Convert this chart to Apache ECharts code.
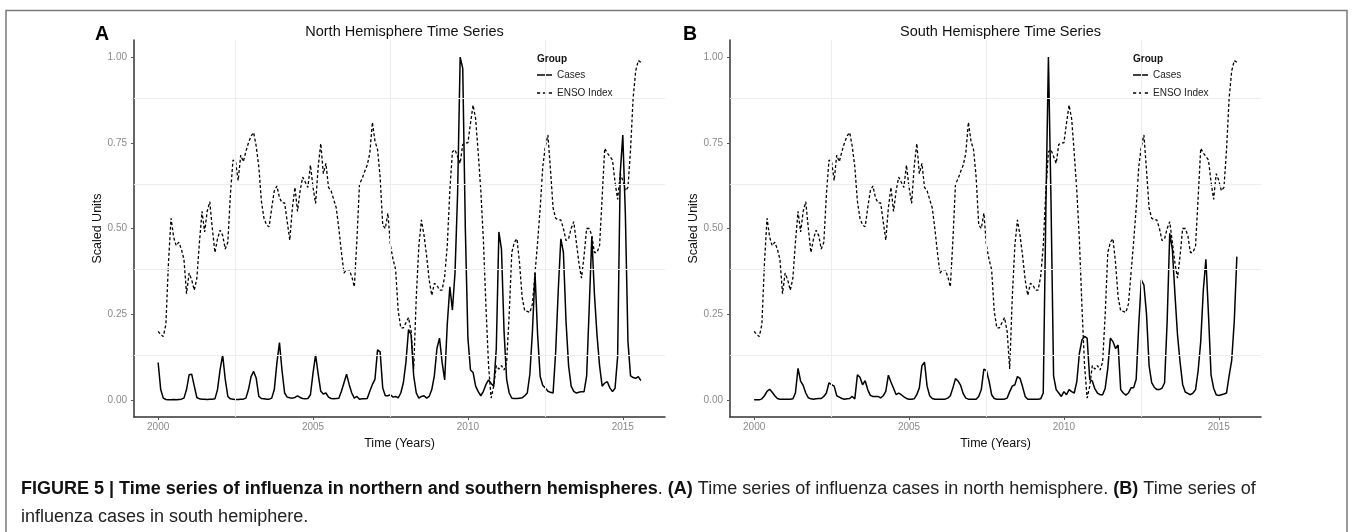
<!DOCTYPE html>
<html>
<head>
<meta charset="utf-8">
<script src="https://cdn.jsdelivr.net/npm/echarts@6/dist/echarts.min.js"></script>
<style>
html,body{margin:0;padding:0;background:#fff;}
#chart{width:1352px;height:532px;}
</style>
</head>
<body>
<div id="chart"></div>
<script>
// ---- data (monthly, Jan 2000 .. Aug 2015) ----
var startYear = 2000;
var xTickYears = [2000, 2005, 2010, 2015];
var yTickValues = [0, 0.25, 0.5, 0.75, 1];
var xMinorGrid = [2002.5, 2007.5, 2012.5];
var yMinorGrid = [0.125, 0.375, 0.625, 0.875];
var panelTitles = ['North Hemisphere Time Series', 'South Hemisphere Time Series'];
var panelLetters = ['A', 'B'];
var seriesNames = ['Cases', 'ENSO Index'];

var ensoIndex = [
  0.20, 0.19, 0.185, 0.22, 0.40, 0.53, 0.475, 0.45, 0.46, 0.44,
  0.41, 0.31, 0.37, 0.35, 0.32, 0.355, 0.46, 0.55, 0.49, 0.55,
  0.578, 0.50, 0.43, 0.47, 0.495, 0.48, 0.44, 0.46, 0.60, 0.70,
  0.695, 0.64, 0.714, 0.695, 0.725, 0.75, 0.77, 0.78, 0.74, 0.68,
  0.58, 0.53, 0.51, 0.505, 0.56, 0.61, 0.624, 0.59, 0.575, 0.575,
  0.52, 0.466, 0.56, 0.62, 0.55, 0.61, 0.65, 0.635, 0.62, 0.685,
  0.62, 0.573, 0.68, 0.748, 0.66, 0.69, 0.62, 0.61, 0.585, 0.56,
  0.50, 0.43, 0.37, 0.38, 0.38, 0.36, 0.33, 0.466, 0.63, 0.645,
  0.666, 0.685, 0.72, 0.81, 0.755, 0.73, 0.65, 0.51, 0.50, 0.545,
  0.45, 0.41, 0.38, 0.26, 0.21, 0.21, 0.225, 0.24, 0.20, 0.09,
  0.30, 0.45, 0.525, 0.48, 0.42, 0.35, 0.305, 0.34, 0.335, 0.32,
  0.32, 0.36, 0.45, 0.61, 0.724, 0.73, 0.71, 0.69, 0.745, 0.75,
  0.75, 0.807, 0.86, 0.82, 0.72, 0.61, 0.466, 0.27, 0.10, 0.005,
  0.04, 0.10, 0.09, 0.10, 0.087, 0.11, 0.25, 0.43, 0.46, 0.47,
  0.40, 0.30, 0.26, 0.258, 0.255, 0.28, 0.37, 0.46, 0.56, 0.68,
  0.74, 0.773, 0.67, 0.56, 0.53, 0.525, 0.525, 0.50, 0.465, 0.47,
  0.50, 0.52, 0.46, 0.40, 0.355, 0.42, 0.50, 0.50, 0.48, 0.43,
  0.43, 0.45, 0.59, 0.734, 0.72, 0.71, 0.70, 0.635, 0.585, 0.66,
  0.64, 0.61, 0.62, 0.73, 0.88, 0.96, 0.99, 0.985
];

var northCases = [
  0.109, 0.03, 0.005, 0.001, 0.0, 0.0, 0.001, 0.0, 0.001, 0.002,
  0.005, 0.03, 0.073, 0.075, 0.04, 0.007, 0.003, 0.002, 0.002, 0.001,
  0.002, 0.002, 0.003, 0.03, 0.088, 0.131, 0.06, 0.01, 0.003, 0.002,
  0.001, 0.001, 0.002, 0.002, 0.005, 0.03, 0.068, 0.083, 0.063, 0.01,
  0.004, 0.003, 0.002, 0.002, 0.005, 0.03, 0.107, 0.167, 0.085, 0.02,
  0.008, 0.006, 0.005, 0.007, 0.012, 0.007, 0.004, 0.003, 0.004, 0.015,
  0.078, 0.131, 0.075, 0.025, 0.017, 0.02, 0.008, 0.004, 0.003, 0.004,
  0.005, 0.025, 0.05, 0.075, 0.045, 0.02, 0.005, 0.01, 0.002, 0.003,
  0.003, 0.004, 0.025, 0.045, 0.06, 0.146, 0.14, 0.035, 0.012, 0.012,
  0.015, 0.008, 0.01, 0.006, 0.02, 0.05, 0.11, 0.205, 0.19, 0.07,
  0.02, 0.005, 0.01, 0.012, 0.005, 0.01, 0.03, 0.07, 0.15, 0.18,
  0.11, 0.058, 0.22, 0.33, 0.262, 0.37, 0.60, 1.0, 0.967, 0.50,
  0.18, 0.087, 0.08, 0.04, 0.024, 0.012, 0.025, 0.045, 0.058, 0.048,
  0.04, 0.15, 0.49, 0.44, 0.20, 0.06, 0.02, 0.005, 0.004, 0.004,
  0.005, 0.006, 0.012, 0.02, 0.075, 0.2, 0.37, 0.19, 0.068, 0.042,
  0.035, 0.025, 0.022, 0.02, 0.14, 0.32, 0.47, 0.43, 0.23, 0.10,
  0.04, 0.025, 0.02, 0.022, 0.024, 0.024, 0.07, 0.27, 0.476, 0.31,
  0.19, 0.10, 0.04, 0.049, 0.053, 0.035, 0.024, 0.034, 0.126, 0.66,
  0.773, 0.54, 0.17, 0.07, 0.065, 0.063, 0.068, 0.056
];

var southCases = [
  0.0, 0.0, 0.0, 0.003, 0.012, 0.025, 0.031, 0.022, 0.012, 0.004,
  0.002, 0.002, 0.002, 0.002, 0.002, 0.003, 0.02, 0.092, 0.055, 0.042,
  0.02, 0.006, 0.003, 0.002, 0.003, 0.004, 0.004, 0.01, 0.02, 0.05,
  0.044, 0.04, 0.012, 0.008, 0.004, 0.002, 0.003, 0.004, 0.01, 0.003,
  0.073, 0.066, 0.044, 0.056, 0.03, 0.013, 0.01, 0.01, 0.01, 0.006,
  0.012, 0.025, 0.072, 0.052, 0.034, 0.015, 0.02, 0.015, 0.009, 0.004,
  0.002, 0.002, 0.003, 0.015, 0.035, 0.10, 0.11, 0.04, 0.012, 0.004,
  0.002, 0.002, 0.002, 0.002, 0.002, 0.005, 0.012, 0.035, 0.062, 0.055,
  0.042, 0.018, 0.005, 0.002, 0.002, 0.002, 0.002, 0.01, 0.03, 0.09,
  0.085, 0.055, 0.015, 0.004, 0.002, 0.002, 0.002, 0.002, 0.005, 0.024,
  0.04, 0.044, 0.068, 0.063, 0.038, 0.01, 0.002, 0.002, 0.002, 0.002,
  0.002, 0.003, 0.02, 0.55, 1.0, 0.58, 0.07, 0.03, 0.02, 0.01,
  0.024, 0.015, 0.03, 0.024, 0.02, 0.053, 0.136, 0.175, 0.185, 0.18,
  0.06, 0.055, 0.032, 0.02, 0.015, 0.015, 0.034, 0.092, 0.18, 0.17,
  0.15, 0.16, 0.03, 0.02, 0.014, 0.02, 0.035, 0.035, 0.06, 0.22,
  0.35, 0.335, 0.25, 0.10, 0.05, 0.037, 0.03, 0.03, 0.034, 0.05,
  0.23, 0.486, 0.44, 0.31, 0.19, 0.11, 0.045, 0.023, 0.019, 0.015,
  0.02, 0.03, 0.085, 0.17, 0.32, 0.41, 0.25, 0.073, 0.034, 0.015,
  0.013, 0.015, 0.017, 0.02, 0.07, 0.115, 0.23, 0.418
];

// ---- build ----
var FONT = '"Liberation Sans", Arial, Helvetica, sans-serif';
function toPairs(arr) {
  return arr.map(function (v, i) { return [startYear + i / 12, v]; });
}
var lastYear = startYear + (ensoIndex.length - 1) / 12;
var pad = (lastYear - startYear) * 0.05;
var xMin = startYear - pad, xMax = lastYear + pad;

var panelLeft = [134, 730];
var letterX = [102, 690];
var gridTop = 40, gridW = 531, gridH = 377;
var caseSets = [northCases, southCases];
var legendIcons = [
  'path://M0 0H15V1.5H0Z',
  'path://M0 0H3V1.3H0Z M5.5 0H8.5V1.3H5.5Z M11 0H14V1.3H11Z'
];

var grids = [], xAxes = [], yAxes = [], series = [], legends = [], titles = [], graphics = [];

panelLeft.forEach(function (L, p) {
  grids.push({ left: L, top: gridTop, width: gridW, height: gridH, containLabel: false });
  xAxes.push({
    type: 'value', gridIndex: p, min: xMin, max: xMax,
    name: 'Time (Years)', nameLocation: 'middle', nameGap: 18,
    nameTextStyle: { fontFamily: FONT, fontSize: 12.5, color: '#111' },
    axisLine: { show: true, onZero: false, lineStyle: { color: '#333', width: 1.5 } },
    axisTick: { show: true, length: 3, customValues: xTickYears, lineStyle: { color: '#555', width: 1 } },
    axisLabel: { customValues: xTickYears, margin: 5, fontFamily: FONT, fontSize: 10, color: '#8a8a8a',
      formatter: function (v) { return String(Math.round(v)); } },
    splitLine: { show: false }
  });
  yAxes.push({
    type: 'value', gridIndex: p, min: -0.05, max: 1.05,
    name: 'Scaled Units', nameLocation: 'middle', nameGap: 24,
    nameTextStyle: { fontFamily: FONT, fontSize: 12.5, color: '#111' },
    axisLine: { show: true, onZero: false, lineStyle: { color: '#333', width: 1.5 } },
    axisTick: { show: true, length: 3, customValues: yTickValues, lineStyle: { color: '#555', width: 1 } },
    axisLabel: { customValues: yTickValues, margin: 7, fontFamily: FONT, fontSize: 10, color: '#8a8a8a',
      formatter: function (v) { return v.toFixed(2); } },
    splitLine: { show: false }
  });
  // minor grid lines
  var mlData = [];
  yMinorGrid.forEach(function (y) { mlData.push({ yAxis: y }); });
  xMinorGrid.forEach(function (x) { mlData.push({ xAxis: x }); });
  series.push({
    type: 'line', xAxisIndex: p, yAxisIndex: p, data: [], z: 1, silent: true,
    markLine: { silent: true, symbol: 'none', label: { show: false },
      lineStyle: { color: '#ededed', type: 'solid', width: 1 }, data: mlData, animation: false }
  });
  series.push({
    name: seriesNames[0], type: 'line', xAxisIndex: p, yAxisIndex: p,
    data: toPairs(caseSets[p]), symbol: 'none', z: 3,
    lineStyle: { color: '#000', width: 1.5, type: 'solid' }, itemStyle: { color: '#000' }
  });
  series.push({
    name: seriesNames[1], type: 'line', xAxisIndex: p, yAxisIndex: p,
    data: toPairs(ensoIndex), symbol: 'none', z: 3,
    lineStyle: { color: '#000', width: 1.3, type: [3, 2.2] }, itemStyle: { color: '#000' }
  });
  legends.push({
    left: L + 398, top: 46, orient: 'vertical',
    data: seriesNames.map(function (n, k) { return { name: n, icon: legendIcons[k] }; }),
    itemWidth: 15, itemHeight: 14, itemGap: 4, padding: [22, 1, 4, 5],
    backgroundColor: '#fff', selectedMode: false,
    itemStyle: { color: '#000', borderWidth: 0 },
    textStyle: { fontFamily: FONT, fontSize: 10, color: '#222', lineHeight: 14 }
  });
  titles.push({
    text: panelTitles[p], left: L + gridW / 2, top: 19.5, textAlign: 'center',
    textStyle: { fontFamily: FONT, fontSize: 14.5, fontWeight: 'normal', color: '#111' }
  });
  graphics.push({
    type: 'text', x: letterX[p], y: 35, z: 100,
    style: { text: panelLetters[p], fontFamily: FONT, fontSize: 19.5, fontWeight: 'bold', fill: '#000',
      align: 'center', verticalAlign: 'middle' }
  });
  graphics.push({
    type: 'text', x: L + 403, y: 59, z: 100,
    style: { text: 'Group', fontFamily: FONT, fontSize: 10, fontWeight: 'bold', fill: '#111',
      align: 'left', verticalAlign: 'middle' }
  });
});

// outer frame
graphics.push({
  type: 'rect', z: 0, silent: true,
  shape: { x: 6, y: 10.5, width: 1341, height: 560 },
  style: { fill: 'none', stroke: '#7a7a7a', lineWidth: 1.5 }
});
// caption
graphics.push({
  type: 'text', x: 21, y: 489, z: 100,
  style: {
    text: '{b|FIGURE 5 | Time series of influenza in northern and southern hemispheres}{n|. }{b|(A)}{n| Time series of influenza cases in north hemisphere. }{b|(B)}{n| Time series of}',
    verticalAlign: 'middle', align: 'left',
    rich: {
      b: { fontFamily: FONT, fontSize: 18, fontWeight: 'bold', fill: '#111' },
      n: { fontFamily: FONT, fontSize: 18, fontWeight: 'normal', fill: '#222' }
    }
  }
});
graphics.push({
  type: 'text', x: 21, y: 517, z: 100,
  style: { text: 'influenza cases in south hemiphere.', fontFamily: FONT, fontSize: 18, fill: '#222',
    align: 'left', verticalAlign: 'middle' }
});

var chart = echarts.init(document.getElementById('chart'), null, { renderer: 'canvas' });
chart.setOption({
  animation: false,
  backgroundColor: '#fff',
  title: titles,
  legend: legends,
  grid: grids,
  xAxis: xAxes,
  yAxis: yAxes,
  series: series,
  graphic: graphics
});
</script>
</body>
</html>
